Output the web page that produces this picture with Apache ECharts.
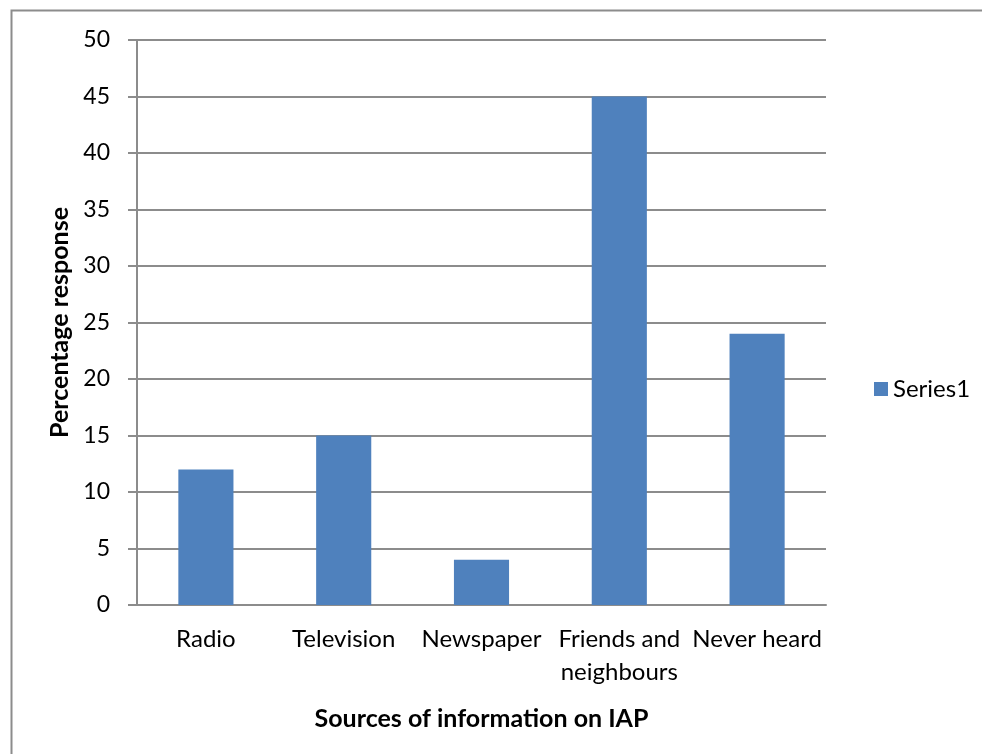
<!DOCTYPE html>
<html>
<head>
<meta charset="utf-8">
<script src="https://cdn.jsdelivr.net/npm/echarts@6/dist/echarts.min.js"></script>
<style>
  html, body { margin: 0; padding: 0; background: #fff; }
  #chart { width: 982px; height: 754px; }
</style>
</head>
<body>
<div id="chart"></div>
<script>
const categories = ["Radio", "Television", "Newspaper", "Friends and neighbours", "Never heard"];
const series1 = [12, 15, 4, 45, 24];
const yTicks = [0, 50, 5]; // min, max, interval

const font = "Lato, 'Open Sans', sans-serif";

const chart = echarts.init(document.getElementById("chart"));
chart.setOption({
  animation: false,
  textStyle: { fontFamily: font },
  graphic: [
    {
      type: "rect",
      shape: { x: 11.5, y: 10.5, width: 1000, height: 1000 },
      style: { fill: "none", stroke: "#8c8c8c", lineWidth: 2 },
      silent: true,
    },
  ],
  grid: { left: 137, right: 156, top: 40, bottom: 149 },
  legend: {
    data: ["Series1"],
    left: 869,
    top: 372,
    icon: "rect",
    itemWidth: 14,
    itemHeight: 14,
    itemGap: 6,
    textStyle: { fontSize: 24, color: "#000", fontFamily: font },
  },
  xAxis: {
    type: "category",
    data: categories,
    name: "Sources of information on IAP",
    nameLocation: "middle",
    nameGap: 101,
    nameTextStyle: { fontSize: 25, fontWeight: "bold", color: "#000", fontFamily: font },
    axisLine: { lineStyle: { color: "#8c8c8c", width: 2 } },
    axisTick: { show: false },
    axisLabel: {
      interval: 0,
      fontSize: 24,
      color: "#000",
      margin: 18,
      lineHeight: 33,
      formatter: (v) => v.replace("Friends and ", "Friends and\n"),
    },
  },
  yAxis: {
    type: "value",
    min: yTicks[0],
    max: yTicks[1],
    interval: yTicks[2],
    name: "Percentage response",
    nameLocation: "middle",
    nameGap: 62,
    nameTextStyle: { fontSize: 25, fontWeight: "bold", color: "#000", fontFamily: font },
    axisLine: { show: true, lineStyle: { color: "#8c8c8c", width: 2 } },
    axisTick: { show: true, length: 9, lineStyle: { color: "#8c8c8c", width: 2 } },
    axisLabel: { fontSize: 23, color: "#000", margin: 27 },
    splitLine: { lineStyle: { color: "#8c8c8c", width: 2 } },
  },
  series: [
    {
      name: "Series1",
      type: "bar",
      data: series1,
      barWidth: "40%",
      itemStyle: { color: "#4f81bd" },
    },
  ],
});
</script>
</body>
</html>
